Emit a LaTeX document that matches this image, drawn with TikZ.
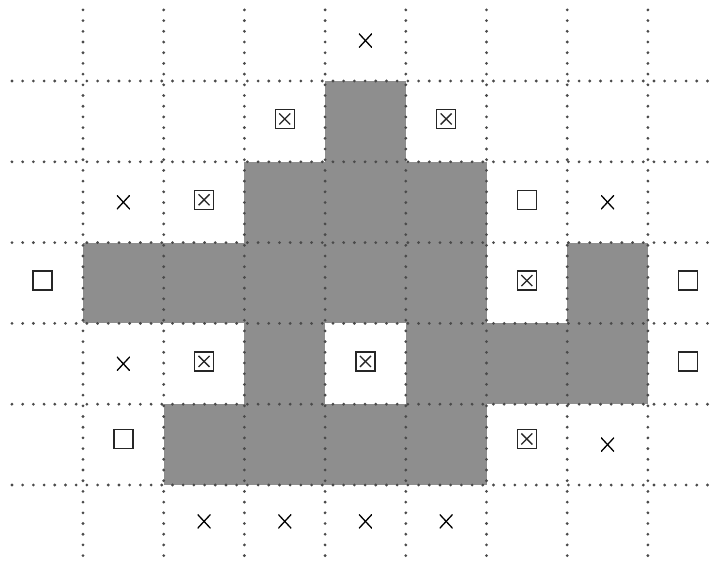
\documentclass[tikz,border=0pt]{standalone}
\usetikzlibrary{calc}
\definecolor{cellgray}{HTML}{8E8E8E}
\definecolor{dotgray}{HTML}{4A4A4A}
\tikzset{
  cell/.style={fill=cellgray, draw=none},
  gridline/.style={draw=dotgray, line width=3.1pt, line cap=round, dash pattern=on 0pt off 10.7pt},
  plainsq/.style={draw=black!85, line width=1.4pt, minimum size=19pt, inner sep=0pt, fill=white},
  xsq/.style={plainsq, path picture={
      \draw[line width=1.3pt] ($(path picture bounding box.south west)+(4pt,4pt)$) -- ($(path picture bounding box.north east)+(-4pt,-4pt)$);
      \draw[line width=1.3pt] ($(path picture bounding box.north west)+(4pt,-4pt)$) -- ($(path picture bounding box.south east)+(-4pt,4pt)$);}},
  xmark/.style={minimum width=13pt, minimum height=14pt, inner sep=0pt, path picture={
      \draw[line width=1.3pt] (path picture bounding box.south west) -- (path picture bounding box.north east);
      \draw[line width=1.3pt] (path picture bounding box.north west) -- (path picture bounding box.south east);}}
}
\begin{document}
\begin{tikzpicture}[x=80.7pt, y=-80.8pt]
\useasboundingbox[fill=white] (-1.0285,-1.0025) rectangle (7.9306,5.9653);
% gray cells (col c spans c-1..c, row r spans r-1..r)
\foreach \c/\r in {4/1, 3/2,4/2,5/2, 1/3,2/3,3/3,4/3,5/3,7/3, 3/4,5/4,6/4,7/4, 2/5,3/5,4/5,5/5}{
  \fill[cell] (\c-1,\r-1) rectangle (\c,\r);
}
% dotted grid
\foreach \i in {0,...,7}{
  \draw[gridline] (\i,-0.88) -- (\i,5.903);
}
\foreach \j in {0,...,5}{
  \draw[gridline] (-0.88,\j) -- (7.84,\j);
}
% symbols
\node[xmark] (m04) at (3.5,-0.5) {};
\node[xsq] (b31) at (2.5,0.47) {};
\node[xsq] (b51) at (4.5,0.47) {};
\node[xmark] (m12) at (0.5,1.5) {};
\node[xsq] (b22) at (1.5,1.47) {};
\node[plainsq] (s62) at (5.5,1.47) {};
\node[xmark] (m72) at (6.5,1.5) {};
\node[plainsq] (s03) at (-0.5,2.47) {};
\node[xsq] (b63) at (5.5,2.47) {};
\node[plainsq] (s83) at (7.5,2.47) {};
\node[xmark] (m14) at (0.5,3.5) {};
\node[xsq] (b24) at (1.5,3.47) {};
\node[xsq] (b44) at (3.5,3.47) {};
\node[plainsq] (s84) at (7.5,3.47) {};
\node[plainsq] (s15) at (0.5,4.43) {};
\node[xsq] (b65) at (5.5,4.43) {};
\node[xmark] (m75) at (6.5,4.5) {};
\node[xmark] (m26) at (1.5,5.45) {};
\node[xmark] (m36) at (2.5,5.45) {};
\node[xmark] (m46) at (3.5,5.45) {};
\node[xmark] (m56) at (4.5,5.45) {};
\end{tikzpicture}
\end{document}
